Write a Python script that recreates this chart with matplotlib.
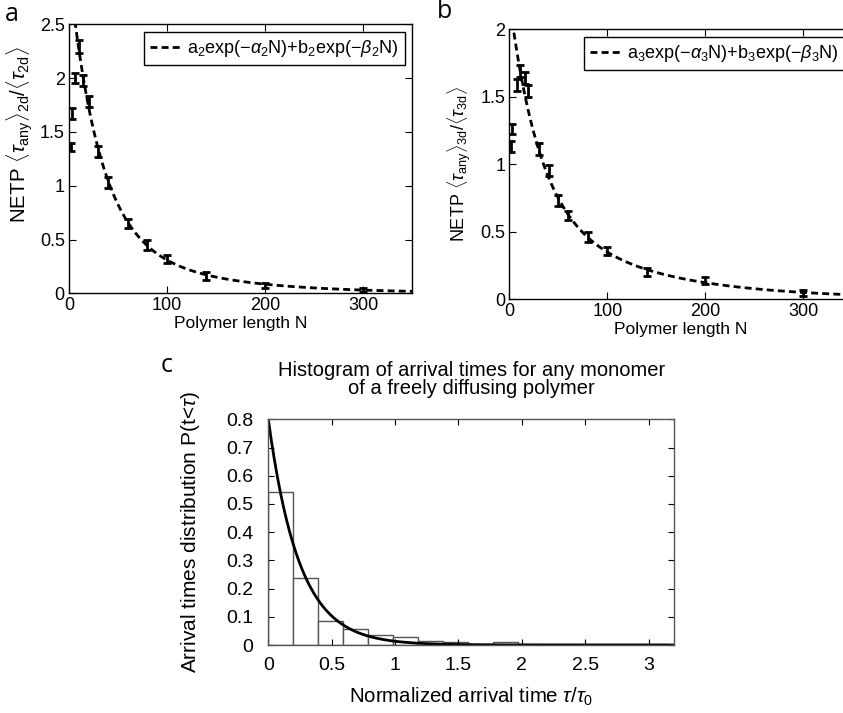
import numpy as np
import matplotlib
matplotlib.use('Agg')
import matplotlib.pyplot as plt

plt.rcParams['font.family'] = ['Liberation Sans', 'DejaVu Sans']
plt.rcParams['mathtext.fontset'] = 'custom'
plt.rcParams['mathtext.rm'] = 'Liberation Sans'
plt.rcParams['mathtext.it'] = 'Liberation Sans:italic'
plt.rcParams['mathtext.sf'] = 'Liberation Sans'
plt.rcParams['mathtext.bf'] = 'Liberation Sans:bold'

# ---------------- data ----------------
# panel a (2D)
N_a = [2, 3, 6, 10, 14, 20, 30, 40, 60, 80, 100, 140, 200, 300]
y_a = [1.36, 1.67, 2.00, 2.29, 1.98, 1.78, 1.32, 1.03, 0.65, 0.45, 0.32, 0.16, 0.07, 0.03]
err_a = [0.04, 0.05, 0.05, 0.06, 0.05, 0.05, 0.05, 0.05, 0.045, 0.045, 0.04, 0.04, 0.025, 0.02]
# fit parameters a2, alpha2, b2, beta2
fit_a = dict(a=2.4, alpha=0.033, b=0.6, beta=0.010)

# panel b (3D)
N_b = [2, 3, 8, 11, 16, 19, 30, 40, 50, 60, 80, 100, 140, 200, 300]
y_b = [1.13, 1.26, 1.59, 1.69, 1.64, 1.54, 1.11, 0.95, 0.73, 0.62, 0.46, 0.355, 0.20, 0.135, 0.045]
err_b = [0.04, 0.04, 0.045, 0.045, 0.045, 0.045, 0.045, 0.04, 0.04, 0.035, 0.035, 0.03, 0.03, 0.025, 0.02]
fit_b = dict(a=1.5, alpha=0.033, b=0.72, beta=0.009)

# panel c histogram
bin_edges = [0.0, 0.197, 0.394, 0.591, 0.788, 0.984, 1.181, 1.378, 1.575,
             1.772, 1.969, 2.166, 2.363, 2.559, 2.756, 2.953, 3.15]
hist_heights = [0.541, 0.238, 0.085, 0.056, 0.035, 0.028, 0.015, 0.012,
                0.004, 0.011, 0.002, 0.005, 0.005, 0.003, 0.004, 0.003]
curve_P0 = 0.8
curve_rate = 4.1

W, H = 843, 713
fig = plt.figure(figsize=(W / 100, H / 100), dpi=100)


def style_axes(ax, lw=1.0, color='black'):
    ax.tick_params(direction='in', top=True, right=True, length=5, width=0.8,
                   labelsize=13, pad=3, colors='black')
    for s in ax.spines.values():
        s.set_linewidth(lw)
        s.set_color(color)


def fitcurve(N, p):
    return p['a'] * np.exp(-p['alpha'] * N) + p['b'] * np.exp(-p['beta'] * N)


leg_kw = dict(loc='upper right', fontsize=13, handlelength=1.75, handletextpad=0.3,
              borderpad=0.35, fancybox=False, framealpha=1, edgecolor='black',
              borderaxespad=0.4)

# ---------------- panel a ----------------
axa = fig.add_axes([69 / W, 1 - 293.3 / H, 343 / W, 269 / H])
Nf = np.linspace(0, 350, 700)
axa.plot(Nf, fitcurve(Nf, fit_a), color='black', lw=2, linestyle=(0, (2.5, 1.5)),
         label=r'a$_2$exp($-\alpha_2$N)+b$_2$exp($-\beta_2$N)')
axa.errorbar(N_a, y_a, yerr=err_a, fmt='none', ecolor='black', elinewidth=2,
             capsize=3, capthick=2)
axa.set_xlim(0, 350)
axa.set_ylim(0, 2.5)
axa.set_xticks([0, 100, 200, 300])
axa.set_yticks([0, 0.5, 1, 1.5, 2, 2.5])
axa.set_yticklabels(['0', '0.5', '1', '1.5', '2', '2.5'])
style_axes(axa)
axa.set_xlabel('Polymer length N', fontsize=12.5, labelpad=1)
axa.set_ylabel(r'NETP $\langle\tau_{\mathrm{any}}\rangle_{\mathrm{2d}}/\langle\tau_{\mathrm{2d}}\rangle$',
               fontsize=14.8)
axa.yaxis.set_label_coords(-0.10, 0.59)
leg = axa.legend(**leg_kw)
leg.get_frame().set_linewidth(1.0)

# ---------------- panel b ----------------
axb = fig.add_axes([509.3 / W, 1 - 299 / H, 343 / W, 269.7 / H])
axb.plot(Nf, fitcurve(Nf, fit_b), color='black', lw=2, linestyle=(0, (2.5, 1.5)),
         label=r'a$_3$exp($-\alpha_3$N)+b$_3$exp($-\beta_3$N)')
axb.errorbar(N_b, y_b, yerr=err_b, fmt='none', ecolor='black', elinewidth=2,
             capsize=3, capthick=2)
axb.set_xlim(0, 350)
axb.set_ylim(0, 2)
axb.set_xticks([0, 100, 200, 300])
axb.set_yticks([0, 0.5, 1, 1.5, 2])
axb.set_yticklabels(['0', '0.5', '1', '1.5', '2'])
style_axes(axb)
axb.set_xlabel('Polymer length N', fontsize=12.5, labelpad=1)
axb.set_ylabel(r'NETP $\langle\tau_{\mathrm{any}}\rangle_{\mathrm{3d}}/\langle\tau_{\mathrm{3d}}\rangle$',
               fontsize=13)
axb.yaxis.set_label_coords(-0.106, 0.5)
legb = axb.legend(**leg_kw)
legb.get_frame().set_linewidth(1.0)

# ---------------- panel c ----------------
axc = fig.add_axes([268.3 / W, 1 - 645 / H, 405.7 / W, 225.7 / H])
lefts = bin_edges[:-1]
widths = np.diff(bin_edges)
axc.bar(lefts, hist_heights, width=widths, align='edge', facecolor='white',
        edgecolor='#555555', linewidth=1.0)
xc = np.linspace(0, 3.2, 400)
axc.plot(xc, curve_P0 * np.exp(-curve_rate * xc), color='black', lw=2)
axc.set_xlim(0, 3.2)
axc.set_ylim(0, 0.8)
axc.set_xticks([0, 0.5, 1, 1.5, 2, 2.5, 3])
axc.set_xticklabels(['0', '0.5', '1', '1.5', '2', '2.5', '3'])
axc.set_yticks([0, 0.1, 0.2, 0.3, 0.4, 0.5, 0.6, 0.7, 0.8])
axc.set_yticklabels(['0', '0.1', '0.2', '0.3', '0.4', '0.5', '0.6', '0.7', '0.8'])
style_axes(axc, lw=1.0, color='#555555')
axc.tick_params(length=4, labelsize=14)
axc.tick_params(axis='y', pad=11)
axc.tick_params(axis='x', pad=9)
axc.set_xlabel(r'Normalized arrival time $\tau/\tau_0$', fontsize=14.7, labelpad=8)
axc.set_ylabel(r'Arrival times distribution P(t<$\tau$)', fontsize=15)
axc.yaxis.set_label_coords(-0.163, 0.5)
axc.set_title('Histogram of arrival times for any monomer\nof a freely diffusing polymer',
              fontsize=14.5, pad=18, linespacing=0.95)

# panel letters
fig.text(5 / W, 1 - 2 / H, 'a', fontsize=18, family='Open Sans', va='top', ha='left')
fig.text(437 / W, 1 - 11 / H, 'b', fontsize=18, family='Open Sans', va='center', ha='left')
fig.text(161 / W, 1 - 365 / H, 'c', fontsize=18, family='Open Sans', va='center', ha='left')

fig.savefig('out.png', dpi=100)
